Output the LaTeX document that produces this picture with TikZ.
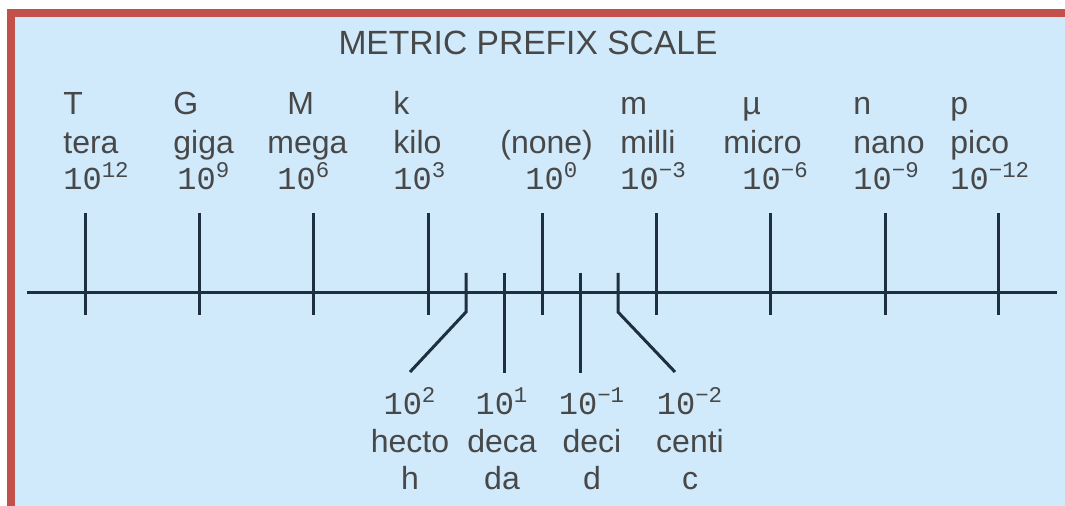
\documentclass[tikz,border=0pt]{standalone}
\usepackage{fontspec}
\setmainfont{Liberation Sans}
\newfontfamily\powfont{Liberation Mono}

\definecolor{panelblue}{HTML}{D0EAFB}
\definecolor{framered}{HTML}{C4504B}
\definecolor{inkline}{HTML}{1E3040}
\definecolor{inktext}{HTML}{484848}
\newcommand{\lblfont}{\fontsize{16}{19}\selectfont}

\tikzset{
    lbl/.style={font=\lblfont, text=inktext, inner sep=0pt},
    powlbl/.style={font=\lblfont\powfont, text=inktext, inner sep=0pt},
    tickline/.style={draw=inkline, line width=1.5pt},
}

\begin{document}
\begin{tikzpicture}[x=0.5pt, y=-0.5pt]
            % ==== FRAME ====
            \fill[white] (0,0) rectangle (1065,506);
            \fill[panelblue] (7,9) rectangle (1065,506);
            \fill[framered] (7,9) rectangle (1065,17);
            \fill[framered] (7,9) rectangle (15,506);

            % ==== TITLE ====
            \node[lbl, anchor=base, font=\fontsize{16.8}{19}\selectfont] (title) at (528,55) {METRIC PREFIX SCALE};

            % ==== AXIS ====
            \coordinate (axL) at (27,293);
            \coordinate (axR) at (1057,293);
            \draw[tickline] (axL) -- (axR);

            % ==== MAJOR TICKS ====
            \foreach \tx/\sx/\nx/\px/\sym/\nm/\pw [count=\i] in {
                85/63/63/63/T/tera/12, 199/173/173/177/G/giga/9,
                313/287/267/277/M/mega/6, 428/393/393/393/k/kilo/3,
                542/525/500/525/{}/{(none)}/0, 656/620/620/620/m/milli/{−3},
                770/742/723/742/µ/micro/{−6}, 885/853/853/853/n/nano/{−9},
                998/950/950/950/p/pico/{−12}} {
                \coordinate (up\i) at (\tx,213);
                \coordinate (dn\i) at (\tx,315);
                \draw[tickline] (up\i) -- (dn\i);
                \node[lbl, anchor=base west] (sym\i) at (\sx,115) {\sym};
                \node[lbl, anchor=base west] (nm\i) at (\nx,154) {\nm};
                \node[powlbl, anchor=base west] (pw\i) at (\px,190) {10\textsuperscript{\pw}};
            }

            % ==== MINOR TICKS ====
            \coordinate (hUp) at (466,273);
            \coordinate (hKnee) at (466,312);
            \coordinate (hEnd) at (410,372);
            \coordinate (daUp) at (504,273);
            \coordinate (daEnd) at (504,373);
            \coordinate (dUp) at (580,273);
            \coordinate (dEnd) at (580,373);
            \coordinate (cUp) at (618,273);
            \coordinate (cKnee) at (618,312);
            \coordinate (cEnd) at (675,372);
            \draw[tickline] (hUp) -- (hKnee) -- (hEnd);
            \draw[tickline] (daUp) -- (daEnd);
            \draw[tickline] (dUp) -- (dEnd);
            \draw[tickline] (cUp) -- (cKnee) -- (cEnd);

            % ==== MINOR LABELS ====
            \foreach \cx/\pw/\nm/\sym [count=\j] in {
                410/2/hecto/h, 502/1/deca/da, 592/{−1}/deci/d, 690/{−2}/centi/c} {
                \node[powlbl, anchor=base] (lpw\j) at (\cx,415) {10\textsuperscript{\pw}};
                \node[lbl, anchor=base] (lnm\j) at (\cx,453) {\nm};
                \node[lbl, anchor=base] (lsym\j) at (\cx,490) {\sym};
            }
\end{tikzpicture}
\end{document}
